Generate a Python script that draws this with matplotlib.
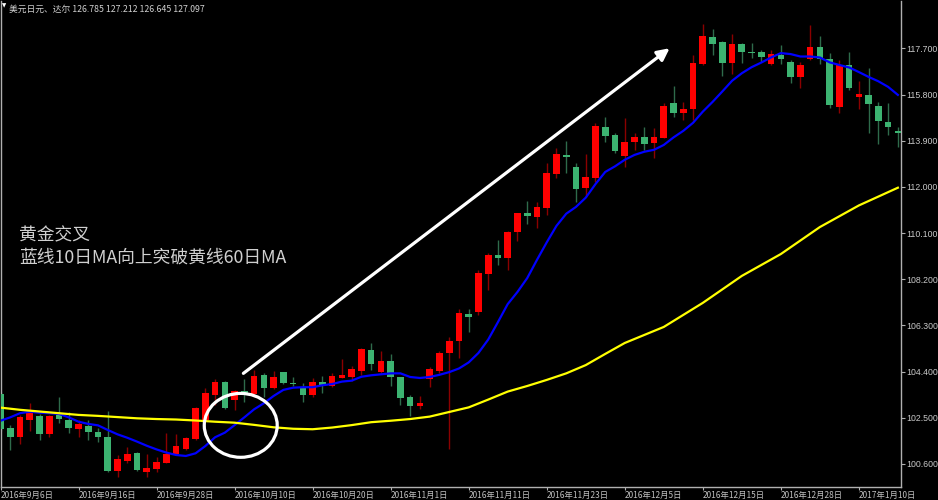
import matplotlib
matplotlib.use("Agg")
import matplotlib.pyplot as plt
from matplotlib.patches import Ellipse

# ---- data: USDJPY daily candles (index 0 = 2016-09-06) ----
opens = [103.48, 102.07, 101.72, 102.41, 102.58, 101.82, 102.62, 102.41, 102.03, 102.16,
         101.92, 101.70, 100.32, 100.74, 101.04, 100.28, 100.38, 100.65, 101.01, 101.20,
         101.62, 102.41, 103.44, 103.99, 103.23, 103.62, 103.48, 104.26, 103.72, 104.37,
         103.92, 103.76, 103.44, 103.99, 103.81, 104.15, 104.19, 104.44, 105.29, 104.40,
         104.85, 104.17, 103.34, 102.99, 104.09, 104.44, 105.16, 105.67, 106.77, 106.87,
         108.42, 109.19, 109.07, 110.16, 110.92, 110.75, 111.12, 112.53, 113.32, 112.81,
         111.95, 112.36, 114.46, 114.13, 113.27, 113.85, 114.04, 113.82, 114.03, 115.44,
         115.03, 115.20, 117.06, 118.19, 117.98, 117.09, 117.88, 117.57, 117.54, 117.06,
         117.43, 117.16, 116.54, 117.25, 117.77, 117.25, 115.30, 117.02, 115.72, 115.79,
         115.33, 114.69, 114.32]
highs = [103.55, 102.20, 102.62, 103.12, 102.66, 102.60, 103.37, 102.75, 102.41, 102.41,
         102.07, 102.79, 100.97, 101.29, 101.11, 101.01, 100.88, 101.86, 101.83, 101.72,
         102.96, 103.72, 104.09, 104.03, 103.65, 104.09, 104.47, 104.33, 104.44, 104.40,
         104.19, 103.92, 104.13, 104.23, 104.36, 104.91, 104.63, 105.36, 105.57, 105.26,
         105.13, 104.19, 103.44, 103.40, 104.58, 105.26, 105.84, 106.97, 106.97, 108.58,
         109.27, 109.82, 110.20, 110.94, 111.44, 111.39, 113.00, 113.59, 113.90, 113.00,
         113.36, 114.62, 114.87, 114.21, 114.83, 114.21, 114.46, 114.42, 115.47, 116.16,
         115.51, 117.43, 118.71, 118.49, 118.02, 118.30, 117.94, 117.94, 117.64, 117.64,
         117.84, 117.23, 117.16, 118.67, 118.21, 117.50, 117.23, 117.57, 116.37, 116.88,
         115.51, 115.47, 114.48]
lows = [101.95, 101.18, 101.42, 101.97, 101.59, 101.70, 102.27, 101.89, 101.70, 101.59,
        101.52, 100.28, 100.08, 100.65, 100.32, 100.08, 100.28, 100.63, 100.97, 101.18,
        101.59, 102.38, 103.03, 102.85, 102.82, 103.16, 103.44, 103.34, 103.67, 103.89,
        103.81, 103.16, 103.34, 103.51, 103.76, 104.13, 104.03, 104.26, 104.47, 104.33,
        103.81, 103.03, 102.58, 102.85, 103.76, 104.36, 101.20, 104.95, 106.05, 106.73,
        107.76, 108.79, 108.58, 109.79, 110.48, 110.30, 110.85, 112.36, 112.56, 111.39,
        111.58, 112.22, 113.86, 113.39, 112.83, 113.52, 113.52, 113.18, 114.00, 114.89,
        114.76, 114.76, 117.02, 117.43, 116.57, 116.65, 117.12, 117.30, 117.16, 117.02,
        117.06, 116.27, 116.06, 117.23, 117.06, 115.24, 115.06, 115.99, 115.20, 114.23,
        113.77, 114.14, 113.66]
closes = [102.03, 101.72, 102.52, 102.71, 101.83, 102.58, 102.44, 102.07, 102.25, 101.92,
          101.70, 100.32, 100.79, 101.00, 100.35, 100.45, 100.69, 101.01, 101.34, 101.68,
          102.92, 103.51, 103.99, 102.89, 103.62, 103.53, 104.22, 103.72, 104.17, 103.92,
          103.88, 103.44, 103.99, 103.85, 104.22, 104.25, 104.50, 105.32, 104.72, 104.85,
          104.17, 103.30, 102.99, 103.12, 104.50, 105.18, 105.67, 106.83, 106.66, 108.47,
          109.20, 109.09, 110.16, 110.92, 110.81, 111.16, 112.56, 113.36, 113.22, 111.90,
          112.40, 114.51, 114.10, 113.49, 113.86, 114.04, 113.76, 114.07, 115.33, 115.03,
          115.22, 117.09, 118.23, 117.88, 117.12, 117.88, 117.55, 117.51, 117.34, 117.47,
          117.25, 116.54, 117.02, 117.77, 117.25, 115.37, 117.02, 116.06, 115.83, 115.41,
          114.73, 114.46, 114.21]

# blue 10-day MA, one value per candle
ma10 = [102.38, 102.52, 102.69, 102.75, 102.71, 102.69, 102.66, 102.52, 102.34, 102.25,
        102.19, 102.00, 101.82, 101.68, 101.52, 101.35, 101.20, 101.07, 100.97, 100.93,
        101.04, 101.34, 101.70, 101.89, 102.20, 102.52, 102.85, 103.10, 103.40, 103.65,
        103.74, 103.76, 103.76, 103.84, 103.89, 103.99, 104.03, 104.19, 104.25, 104.29,
        104.33, 104.33, 104.18, 104.14, 104.18, 104.27, 104.38, 104.53, 104.78, 105.17,
        105.72, 106.44, 107.18, 107.68, 108.25, 109.00, 109.72, 110.40, 110.90, 111.18,
        111.56, 112.12, 112.62, 112.85, 113.12, 113.32, 113.45, 113.53, 113.73, 114.04,
        114.31, 114.64, 115.10, 115.50, 115.93, 116.37, 116.68, 116.93, 117.12, 117.33,
        117.51, 117.47, 117.37, 117.37, 117.33, 117.13, 117.02, 116.92, 116.73, 116.53,
        116.35, 116.12, 115.79]

# yellow 60-day MA, read every 2nd candle up to 64, then every 4th
ma60_idx = [0, 2, 4, 6, 8, 10, 12, 14, 16, 18, 20, 22, 24, 26, 28, 30, 32, 34, 36, 38,
            40, 42, 44, 46, 48, 50, 52, 54, 56, 58, 60, 62, 64, 68, 72, 76, 80, 84, 88, 92]
ma60 = [102.92, 102.83, 102.76, 102.69, 102.62, 102.58, 102.53, 102.48, 102.45, 102.43,
        102.39, 102.34, 102.30, 102.21, 102.11, 102.05, 102.03, 102.10, 102.20, 102.32,
        102.38, 102.45, 102.55, 102.74, 102.93, 103.25, 103.58, 103.81, 104.06, 104.33,
        104.67, 105.13, 105.58, 106.24, 107.23, 108.34, 109.24, 110.35, 111.24, 111.97]

price_ticks = [100.6, 102.5, 104.4, 106.3, 108.2, 110.1, 112.0, 113.9, 115.8, 117.7]
date_idx = [0, 8, 16, 24, 32, 40, 48, 56, 64, 72, 80, 88]
date_labels = ["2016年9月6日", "2016年9月16日", "2016年9月28日", "2016年10月10日",
               "2016年10月20日", "2016年11月1日", "2016年11月11日", "2016年11月23日",
               "2016年12月5日", "2016年12月15日", "2016年12月28日", "2017年1月10日"]
title = "美元日元、达尔 126.785 127.212 126.645 127.097"
note1 = "黄金交叉"
note2 = "蓝线10日MA向上突破黄线60日MA"

CJK = ["Noto Sans CJK SC", "DejaVu Sans"]
W, H = 938, 500

fig = plt.figure(figsize=(W / 100, H / 100), dpi=100, facecolor="black")
ax = fig.add_axes([0.5 / W, 13 / H, 900.5 / W, 486 / H], facecolor="black")

n = len(closes)
x = list(range(n))
up = [c >= o for o, c in zip(opens, closes)]
body_col = ["#ff0000" if u else "#3cb371" for u in up]
wick_col = ["#8b0000" if u else "#2e6b4b" for u in up]

ax.vlines(x, lows, highs, colors=wick_col, lw=1.0, zorder=2)
bottoms = [min(o, c) for o, c in zip(opens, closes)]
heights = [max(abs(c - o), 0.05) for o, c in zip(opens, closes)]
ax.bar(x, heights, bottom=bottoms, width=0.68, color=body_col, lw=0, zorder=3)

ax.plot(x, ma10, color="#0000ff", lw=1.6, zorder=4)
ax.plot(ma60_idx, ma60, color="#ffff00", lw=1.6, zorder=4)

# annotations: arrow + circle around the cross
ax.annotate("", xy=(68.6, 117.71), xytext=(24.9, 104.33),
            arrowprops=dict(arrowstyle="-|>,head_length=0.6,head_width=0.3",
                            color="white", lw=2.3, mutation_scale=12,
                            shrinkA=0, shrinkB=0), zorder=5)
ax.add_patch(Ellipse((24.63, 102.19), 7.48, 2.63, fill=False, ec="white", lw=2.3, zorder=5))

ax.set_xlim(0, 900.5 / 9.754)
ax.set_ylim(99.653, 119.654)

ax.yaxis.tick_right()
ax.set_yticks(price_ticks)
ax.set_yticklabels([f"{p:.3f}" for p in price_ticks], family="Liberation Sans")
ax.tick_params(axis="y", length=3, width=0.8, color="#b0b0b0", labelcolor="#c8c8c8",
               labelsize=6.3, pad=1.0)
ax.set_xticks(date_idx)
ax.set_xticklabels(date_labels, family=CJK, ha="left")
ax.tick_params(axis="x", length=2, width=0.8, color="#b0b0b0", labelcolor="#c0c0c0",
               labelsize=6, pad=0.8)

for s in ("left", "bottom", "right"):
    ax.spines[s].set_color("#b0b0b0")
    ax.spines[s].set_linewidth(1.0)
ax.spines["top"].set_visible(False)

fig.text(9 / W, 1 - 9 / H, title, family=CJK, fontsize=6.3, color="#d0d0d0", va="center")
fig.text(4 / W, 1 - 6 / H, "▼", family="DejaVu Sans", fontsize=4, color="white",
         va="center", ha="center")
fig.text(19 / W, 1 - 235 / H, note1, family=CJK, fontsize=12.8, color="#d0d0d0", va="center")
fig.text(19 / W, 1 - 258 / H, note2, family=CJK, fontsize=12.8, color="#d0d0d0", va="center")

fig.savefig("out.png", dpi=100, facecolor="black")
